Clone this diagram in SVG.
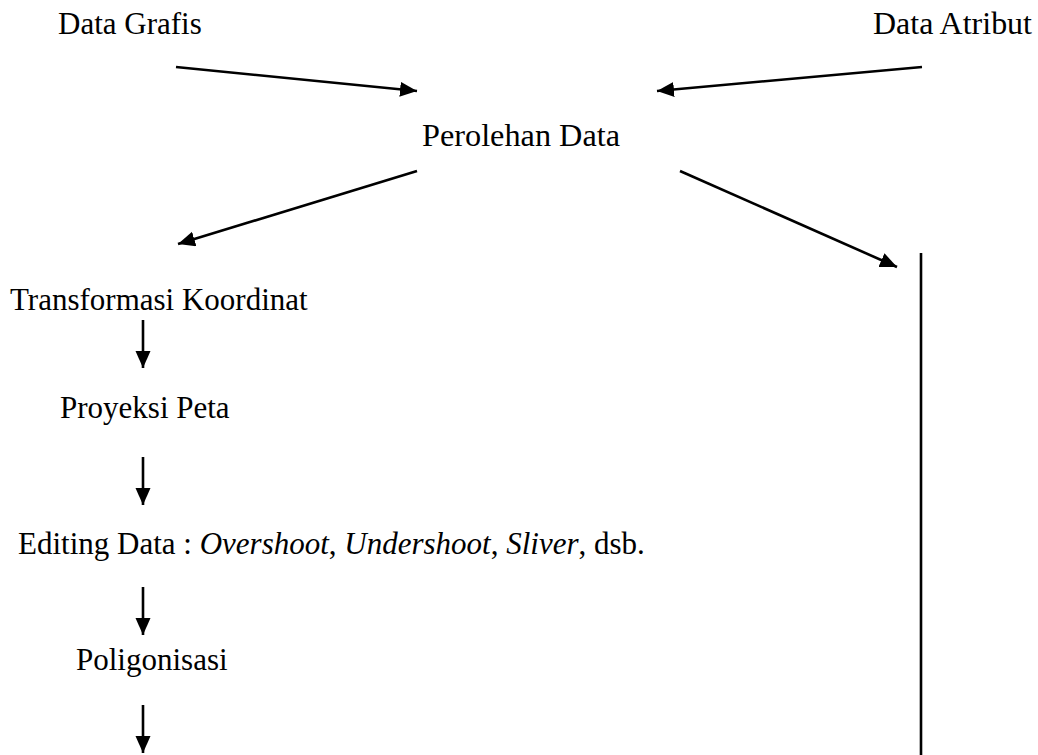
<svg xmlns="http://www.w3.org/2000/svg" width="1038" height="755" viewBox="0 0 1038 755">
  <style>
    .lbl { font-family: "Liberation Serif", "Times New Roman", serif; font-size: 31px; fill: #000; }
    .it { font-style: italic; }
    .edge { stroke: #000; stroke-width: 2.6; fill: none; }
  </style>
  <defs>
    <marker id="head" markerUnits="userSpaceOnUse" markerWidth="18" markerHeight="16" refX="17" refY="7.5" orient="auto">
      <path d="M0,0 L17,7.5 L0,15 z" fill="#000"/>
    </marker>
  </defs>
  <rect width="1038" height="755" fill="#fff"/>

  <!-- source data -->
  <g id="data-grafis"><text class="lbl" x="58" y="34">Data Grafis</text></g>
  <g id="data-atribut"><text class="lbl" x="873" y="34" textLength="159" lengthAdjust="spacingAndGlyphs">Data Atribut</text></g>

  <!-- acquisition -->
  <g id="perolehan-data"><text class="lbl" x="422" y="146" textLength="198" lengthAdjust="spacingAndGlyphs">Perolehan Data</text></g>

  <!-- processing chain -->
  <g id="transformasi-koordinat"><text class="lbl" x="10" y="310">Transformasi Koordinat</text></g>
  <g id="proyeksi-peta"><text class="lbl" x="60" y="418">Proyeksi Peta</text></g>
  <g id="editing-data"><text class="lbl" x="18" y="554">Editing Data : <tspan class="it">Overshoot</tspan>, <tspan class="it">Undershoot</tspan>, <tspan class="it">Sliver</tspan>, dsb.</text></g>
  <g id="poligonisasi"><text class="lbl" x="76" y="670">Poligonisasi</text></g>

  <!-- connectors -->
  <g id="connectors">
    <line class="edge" x1="176" y1="67" x2="417" y2="91" marker-end="url(#head)"/>
    <line class="edge" x1="922" y1="67" x2="657" y2="91" marker-end="url(#head)"/>
    <line class="edge" x1="417" y1="171" x2="178" y2="244" marker-end="url(#head)"/>
    <line class="edge" x1="680" y1="171" x2="897" y2="267" marker-end="url(#head)"/>
    <line class="edge" x1="921" y1="253" x2="921" y2="755"/>
    <line class="edge" x1="143" y1="320" x2="143" y2="368" marker-end="url(#head)"/>
    <line class="edge" x1="143" y1="457" x2="143" y2="505" marker-end="url(#head)"/>
    <line class="edge" x1="143" y1="587" x2="143" y2="635" marker-end="url(#head)"/>
    <line class="edge" x1="143" y1="705" x2="143" y2="753" marker-end="url(#head)"/>
  </g>
</svg>
